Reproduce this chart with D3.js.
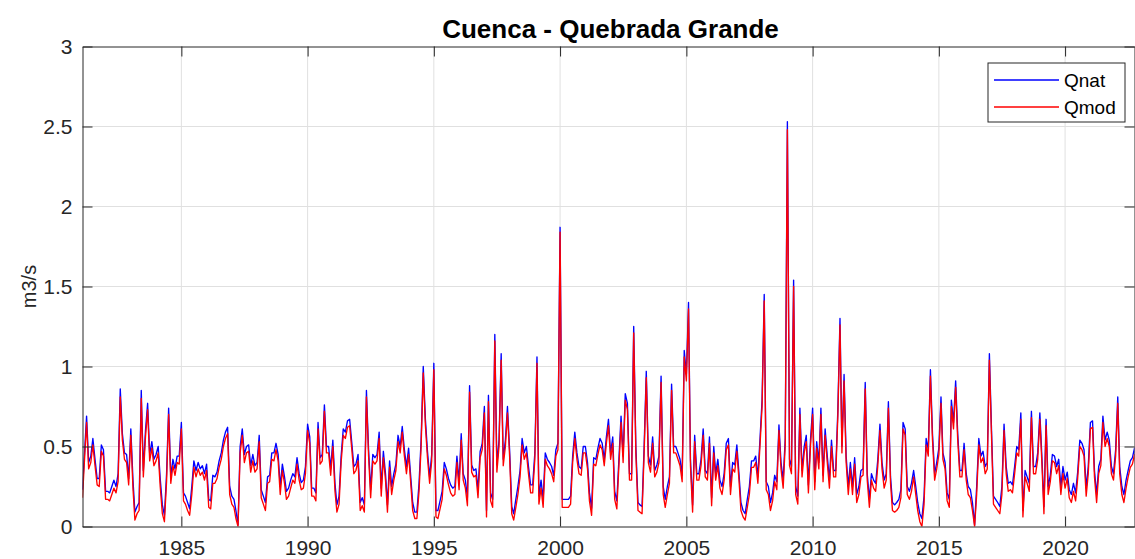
<!DOCTYPE html>
<html>
<head>
<meta charset="utf-8">
<script src="https://cdn.jsdelivr.net/npm/d3@7"></script>
<style>
  html, body { margin: 0; padding: 0; background: #ffffff; }
  svg { display: block; font-family: "Liberation Sans", Arial, Helvetica, sans-serif; }
</style>
</head>
<body>
<svg id="chart" width="1135" height="559"></svg>
<script>
// ---- chart text and ticks ----
const chartTitle = "Cuenca - Quebrada Grande";
const yAxisLabel = "m3/s";
const seriesNames = ["Qnat", "Qmod"];
const seriesColors = ["#0000ff", "#ff0000"];
const firstYear = 1981;
const firstMonthIndex = 1;          // February (0-based)
const xTickYears = [1985, 1990, 1995, 2000, 2005, 2010, 2015, 2020];
const yTickValues = [0, 0.5, 1, 1.5, 2, 2.5, 3];
const yTickLabels = ["0", "0.5", "1", "1.5", "2", "2.5", "3"];

// ---- monthly discharge (m3/s), one value per month from Feb 1981 ----
const qnat = [
  0.23,0.45,0.69,0.40,0.44,0.55,0.42,0.30,0.30,0.51,
  0.48,0.22,0.22,0.21,0.25,0.29,0.25,0.33,0.86,0.58,
  0.46,0.45,0.30,0.61,0.29,0.09,0.125,0.15,0.85,0.35,
  0.60,0.77,0.45,0.53,0.42,0.45,0.50,0.30,0.135,0.07,
  0.33,0.74,0.31,0.42,0.36,0.44,0.44,0.65,0.21,0.19,
  0.15,0.11,0.25,0.41,0.35,0.40,0.36,0.38,0.33,0.39,
  0.17,0.16,0.32,0.31,0.34,0.41,0.46,0.54,0.59,0.62,
  0.25,0.19,0.17,0.10,0.01,0.50,0.61,0.45,0.50,0.51,
  0.38,0.45,0.38,0.40,0.57,
  0.23,0.19,0.15,0.31,0.32,0.46,0.46,0.52,0.45,0.25,
  0.39,0.31,0.22,0.24,0.29,0.33,0.31,0.43,0.33,0.275,
  0.29,0.375,0.64,0.56,0.24,0.24,0.21,0.65,0.43,0.45,
  0.76,0.50,0.50,0.36,0.54,0.27,0.135,0.19,0.44,0.61,
  0.59,0.66,0.67,0.53,0.375,0.39,0.45,0.15,0.18,0.135,
  0.85,0.48,0.23,0.45,0.43,0.45,0.59,0.24,0.47,0.33,
  0.135,0.41,0.25,0.33,0.39,0.57,0.50,0.625,0.48,0.375,
  0.49,0.31,0.15,0.09,0.09,0.27,0.54,1.00,0.67,0.47,
  0.31,0.45,1.02,
  0.10,0.10,0.16,0.22,0.40,0.36,0.30,0.26,0.24,0.25,
  0.44,0.28,0.58,0.33,0.29,0.18,0.88,0.385,0.35,0.36,
  0.23,0.47,0.52,0.75,0.10,0.82,0.21,0.17,1.20,0.385,
  0.54,1.08,0.42,0.54,0.75,0.48,0.125,0.08,0.17,0.25,
  0.35,0.55,0.46,0.50,0.375,0.26,0.26,0.46,1.06,0.19,
  0.29,0.17,0.46,0.42,0.40,0.375,0.32,0.48,0.52,1.87,
  0.17,0.17,0.17,0.17,0.19,0.44,0.59,0.46,0.375,0.36,
  0.50,0.50,0.40,0.21,0.115,0.43,0.42,0.49,0.55,0.52,
  0.42,0.56,0.67,
  0.46,0.56,0.22,0.16,0.42,0.69,0.44,0.83,0.77,0.33,
  0.33,1.25,0.50,0.15,0.135,0.125,0.50,0.97,0.44,0.385,
  0.56,0.35,0.385,0.44,0.94,0.25,0.17,0.25,0.31,0.89,
  0.50,0.50,0.46,0.42,0.32,1.10,0.95,1.40,0.42,0.135,
  0.57,0.33,0.33,0.42,0.61,0.35,0.33,0.56,0.18,0.50,
  0.33,0.42,0.29,0.25,0.33,0.52,0.55,0.25,0.40,0.385,
  0.51,0.33,0.15,0.10,0.08,0.17,0.25,0.41,0.41,0.44,
  0.31,0.54,0.79,1.45,0.28,0.25,0.15,0.21,0.32,0.28,
  0.635,0.40,0.29,0.55,
  2.53,0.42,0.375,1.54,0.25,0.19,0.74,0.35,0.50,0.57,
  0.26,0.54,0.74,0.28,0.53,0.40,0.74,0.32,0.61,0.44,
  0.29,0.54,0.35,0.35,0.73,1.30,0.50,0.95,
  0.44,0.25,0.40,0.25,0.43,0.20,0.25,0.35,0.36,0.90,
  0.33,0.17,0.33,0.29,0.27,0.42,0.64,0.40,0.29,0.33,
  0.78,0.31,0.15,0.135,0.15,0.17,0.23,0.65,0.61,0.25,
  0.22,0.27,0.35,0.25,0.15,0.08,0.05,0.19,0.55,0.48,
  0.98,0.58,0.33,0.40,0.49,0.81,0.46,0.40,0.21,0.17,
  0.79,0.65,0.91,0.58,0.35,0.35,
  0.52,0.33,0.25,0.23,0.15,0.01,0.25,0.55,0.44,0.47,
  0.375,0.40,1.08,0.60,0.19,0.17,0.15,0.125,0.25,0.64,
  0.375,0.27,0.28,0.26,0.375,0.50,0.48,0.71,0.10,0.35,
  0.31,0.27,0.72,0.375,0.375,0.46,0.71,0.42,0.125,0.67,
  0.25,0.32,0.45,0.44,0.375,0.42,0.25,0.375,0.29,0.34,
  0.23,0.20,0.27,0.21,0.34,0.54,0.52,0.48,0.24,0.375,
  0.65,0.66,0.35,0.20,0.375,0.42,0.69,0.54,0.59,0.54,
  0.375,0.33,0.48,0.81,0.375,0.25,0.20,0.29,0.35,0.41,
  0.43,0.49,0.385
];

const qmod = [
  0.18,0.41,0.65,0.36,0.40,0.51,0.38,0.26,0.25,0.47,
  0.44,0.17,0.17,0.16,0.20,0.24,0.21,0.28,0.81,0.54,
  0.42,0.40,0.26,0.57,0.24,0.04,0.08,0.10,0.80,0.31,
  0.56,0.73,0.41,0.49,0.38,0.41,0.46,0.25,0.08,0.03,
  0.28,0.70,0.27,0.38,0.32,0.40,0.39,0.61,0.16,0.14,
  0.10,0.07,0.20,0.37,0.31,0.36,0.32,0.34,0.29,0.35,
  0.12,0.11,0.27,0.27,0.30,0.37,0.42,0.50,0.55,0.58,
  0.20,0.14,0.12,0.05,0.00,0.46,0.57,0.40,0.46,0.47,
  0.34,0.41,0.34,0.36,0.53,
  0.18,0.14,0.10,0.27,0.28,0.42,0.41,0.48,0.41,0.20,
  0.35,0.27,0.17,0.19,0.24,0.29,0.27,0.39,0.29,0.23,
  0.24,0.33,0.60,0.52,0.19,0.19,0.16,0.61,0.39,0.41,
  0.72,0.46,0.46,0.32,0.50,0.22,0.09,0.14,0.40,0.57,
  0.55,0.62,0.63,0.49,0.33,0.35,0.41,0.10,0.13,0.09,
  0.81,0.44,0.18,0.41,0.39,0.41,0.55,0.19,0.43,0.29,
  0.09,0.37,0.20,0.29,0.35,0.53,0.46,0.59,0.44,0.33,
  0.45,0.27,0.10,0.05,0.05,0.22,0.50,0.96,0.63,0.43,
  0.27,0.41,0.98,
  0.06,0.05,0.11,0.17,0.36,0.32,0.26,0.21,0.19,0.20,
  0.40,0.23,0.54,0.29,0.24,0.13,0.84,0.34,0.31,0.32,
  0.18,0.43,0.48,0.71,0.06,0.78,0.16,0.12,1.16,0.34,
  0.50,1.04,0.38,0.50,0.71,0.44,0.08,0.04,0.12,0.20,
  0.31,0.51,0.42,0.46,0.33,0.21,0.21,0.42,1.02,0.14,
  0.24,0.12,0.42,0.38,0.36,0.33,0.28,0.44,0.48,1.84,
  0.12,0.12,0.12,0.12,0.14,0.40,0.55,0.42,0.33,0.32,
  0.46,0.46,0.36,0.16,0.07,0.39,0.38,0.45,0.51,0.48,
  0.38,0.52,0.63,
  0.42,0.52,0.17,0.11,0.38,0.65,0.40,0.79,0.73,0.29,
  0.29,1.21,0.46,0.10,0.09,0.08,0.46,0.93,0.40,0.34,
  0.52,0.31,0.34,0.40,0.90,0.20,0.12,0.20,0.27,0.85,
  0.46,0.46,0.42,0.38,0.28,1.06,0.91,1.36,0.38,0.09,
  0.53,0.29,0.29,0.38,0.57,0.31,0.29,0.52,0.13,0.46,
  0.29,0.38,0.24,0.20,0.29,0.48,0.51,0.20,0.36,0.34,
  0.47,0.29,0.10,0.06,0.04,0.12,0.20,0.37,0.37,0.40,
  0.27,0.50,0.75,1.41,0.23,0.20,0.10,0.16,0.28,0.23,
  0.60,0.36,0.24,0.51,
  2.48,0.38,0.33,1.50,0.20,0.14,0.70,0.31,0.46,0.53,
  0.21,0.50,0.70,0.23,0.49,0.36,0.70,0.28,0.57,0.40,
  0.24,0.50,0.31,0.31,0.69,1.26,0.46,0.91,
  0.40,0.20,0.36,0.20,0.39,0.15,0.20,0.31,0.32,0.86,
  0.29,0.12,0.29,0.24,0.22,0.38,0.60,0.36,0.24,0.29,
  0.74,0.27,0.10,0.09,0.10,0.12,0.18,0.61,0.57,0.20,
  0.17,0.22,0.31,0.20,0.10,0.03,0.00,0.14,0.51,0.44,
  0.94,0.54,0.29,0.36,0.45,0.77,0.42,0.36,0.16,0.12,
  0.75,0.61,0.87,0.54,0.31,0.31,
  0.48,0.29,0.20,0.18,0.10,0.00,0.20,0.51,0.40,0.43,
  0.33,0.36,1.04,0.56,0.14,0.12,0.10,0.08,0.20,0.60,
  0.33,0.22,0.23,0.21,0.33,0.46,0.44,0.67,0.06,0.31,
  0.27,0.22,0.68,0.33,0.33,0.42,0.67,0.38,0.08,0.63,
  0.20,0.28,0.41,0.40,0.33,0.38,0.20,0.33,0.24,0.30,
  0.18,0.15,0.22,0.16,0.30,0.50,0.48,0.44,0.19,0.33,
  0.61,0.62,0.31,0.15,0.33,0.38,0.65,0.50,0.55,0.50,
  0.33,0.29,0.44,0.77,0.33,0.20,0.15,0.24,0.31,0.37,
  0.39,0.45,0.34
];

// ---- layout ----
const svg = d3.select("#chart");
const plot = { left: 82.5, top: 46.5, right: 1134.5, bottom: 526.5 };
const axisColor = "#262626";
const gridColor = "#e0e0e0";

const months = qnat.map((_, i) => new Date(firstYear, firstMonthIndex + i, 1));

const x = d3.scaleTime()
  .domain([new Date(firstYear, firstMonthIndex, 1), new Date(2022, 9, 1)])
  .range([plot.left, plot.right]);
const y = d3.scaleLinear().domain([0, 3]).range([plot.bottom, plot.top]);

const xTickDates = xTickYears.map(yr => new Date(yr, 0, 1));

// background
svg.append("rect").attr("x", 0).attr("y", 0).attr("width", 1135).attr("height", 559).attr("fill", "#ffffff");

// grid
const grid = svg.append("g").attr("class", "grid");
grid.selectAll("line.vx").data(xTickDates).join("line")
  .attr("x1", d => x(d)).attr("x2", d => x(d))
  .attr("y1", plot.top).attr("y2", plot.bottom)
  .attr("stroke", gridColor).attr("stroke-width", 1);
grid.selectAll("line.hy").data(yTickValues.slice(1, -1)).join("line")
  .attr("x1", plot.left).attr("x2", plot.right)
  .attr("y1", d => y(d)).attr("y2", d => y(d))
  .attr("stroke", gridColor).attr("stroke-width", 1);

// series lines
svg.append("clipPath").attr("id", "plotClip")
  .append("rect").attr("x", plot.left).attr("y", plot.top)
  .attr("width", plot.right - plot.left).attr("height", plot.bottom - plot.top);

const lineGen = d3.line().x((d, i) => x(months[i])).y(d => y(d));
const seriesData = [qnat, qmod];
svg.append("g").attr("clip-path", "url(#plotClip)")
  .selectAll("path").data(seriesData).join("path")
  .attr("d", d => lineGen(d))
  .attr("fill", "none")
  .attr("stroke", (d, i) => seriesColors[i])
  .attr("stroke-width", 1.35)
  .attr("stroke-linejoin", "round");

// axes (inward ticks on all four sides)
function styleAxis(g) {
  g.selectAll("path.domain").attr("stroke", axisColor).attr("stroke-width", 1);
  g.selectAll(".tick line").attr("stroke", axisColor).attr("stroke-width", 1);
  g.selectAll(".tick text").attr("fill", axisColor)
    .style("font-family", "'Liberation Sans', Arial, sans-serif").style("font-size", "21px");
}

svg.append("g").attr("transform", `translate(0,${plot.bottom})`)
  .call(d3.axisBottom(x).tickValues(xTickDates).tickFormat((d, i) => String(xTickYears[i]))
    .tickSizeInner(-10).tickSizeOuter(0).tickPadding(14))
  .call(styleAxis);

svg.append("g").attr("transform", `translate(0,${plot.top})`)
  .call(d3.axisTop(x).tickValues(xTickDates).tickFormat("")
    .tickSizeInner(-10).tickSizeOuter(0))
  .call(styleAxis);

svg.append("g").attr("transform", `translate(${plot.left},0)`)
  .call(d3.axisLeft(y).tickValues(yTickValues).tickFormat((d, i) => yTickLabels[i])
    .tickSizeInner(-10).tickSizeOuter(0).tickPadding(10))
  .call(styleAxis);

svg.append("g").attr("transform", `translate(${plot.right},0)`)
  .call(d3.axisRight(y).tickValues(yTickValues).tickFormat("")
    .tickSizeInner(-10).tickSizeOuter(0))
  .call(styleAxis);

// title
svg.append("text")
  .attr("x", (plot.left + plot.right) / 2 + 2).attr("y", 38)
  .attr("text-anchor", "middle")
  .style("font-size", "26px").style("font-weight", "bold").attr("fill", "#000000")
  .text(chartTitle);

// y-axis label
svg.append("text")
  .attr("transform", `translate(36,${(plot.top + plot.bottom) / 2}) rotate(-90)`)
  .attr("text-anchor", "middle")
  .style("font-size", "20px").attr("fill", axisColor)
  .text(yAxisLabel);

// legend
const legend = svg.append("g").attr("class", "legend");
legend.append("rect")
  .attr("x", 988).attr("y", 63).attr("width", 137).attr("height", 59)
  .attr("fill", "#ffffff").attr("stroke", axisColor).attr("stroke-width", 1);
const legendRows = legend.selectAll("g.row").data(seriesNames).join("g")
  .attr("transform", (d, i) => `translate(0,${80 + i * 27})`);
legendRows.append("line")
  .attr("x1", 994).attr("x2", 1059).attr("y1", 0).attr("y2", 0)
  .attr("stroke", (d, i) => seriesColors[i]).attr("stroke-width", 1.35);
legendRows.append("text")
  .attr("x", 1064).attr("y", 7)
  .style("font-size", "19px").attr("fill", "#000000")
  .text(d => d);
</script>
</body>
</html>
